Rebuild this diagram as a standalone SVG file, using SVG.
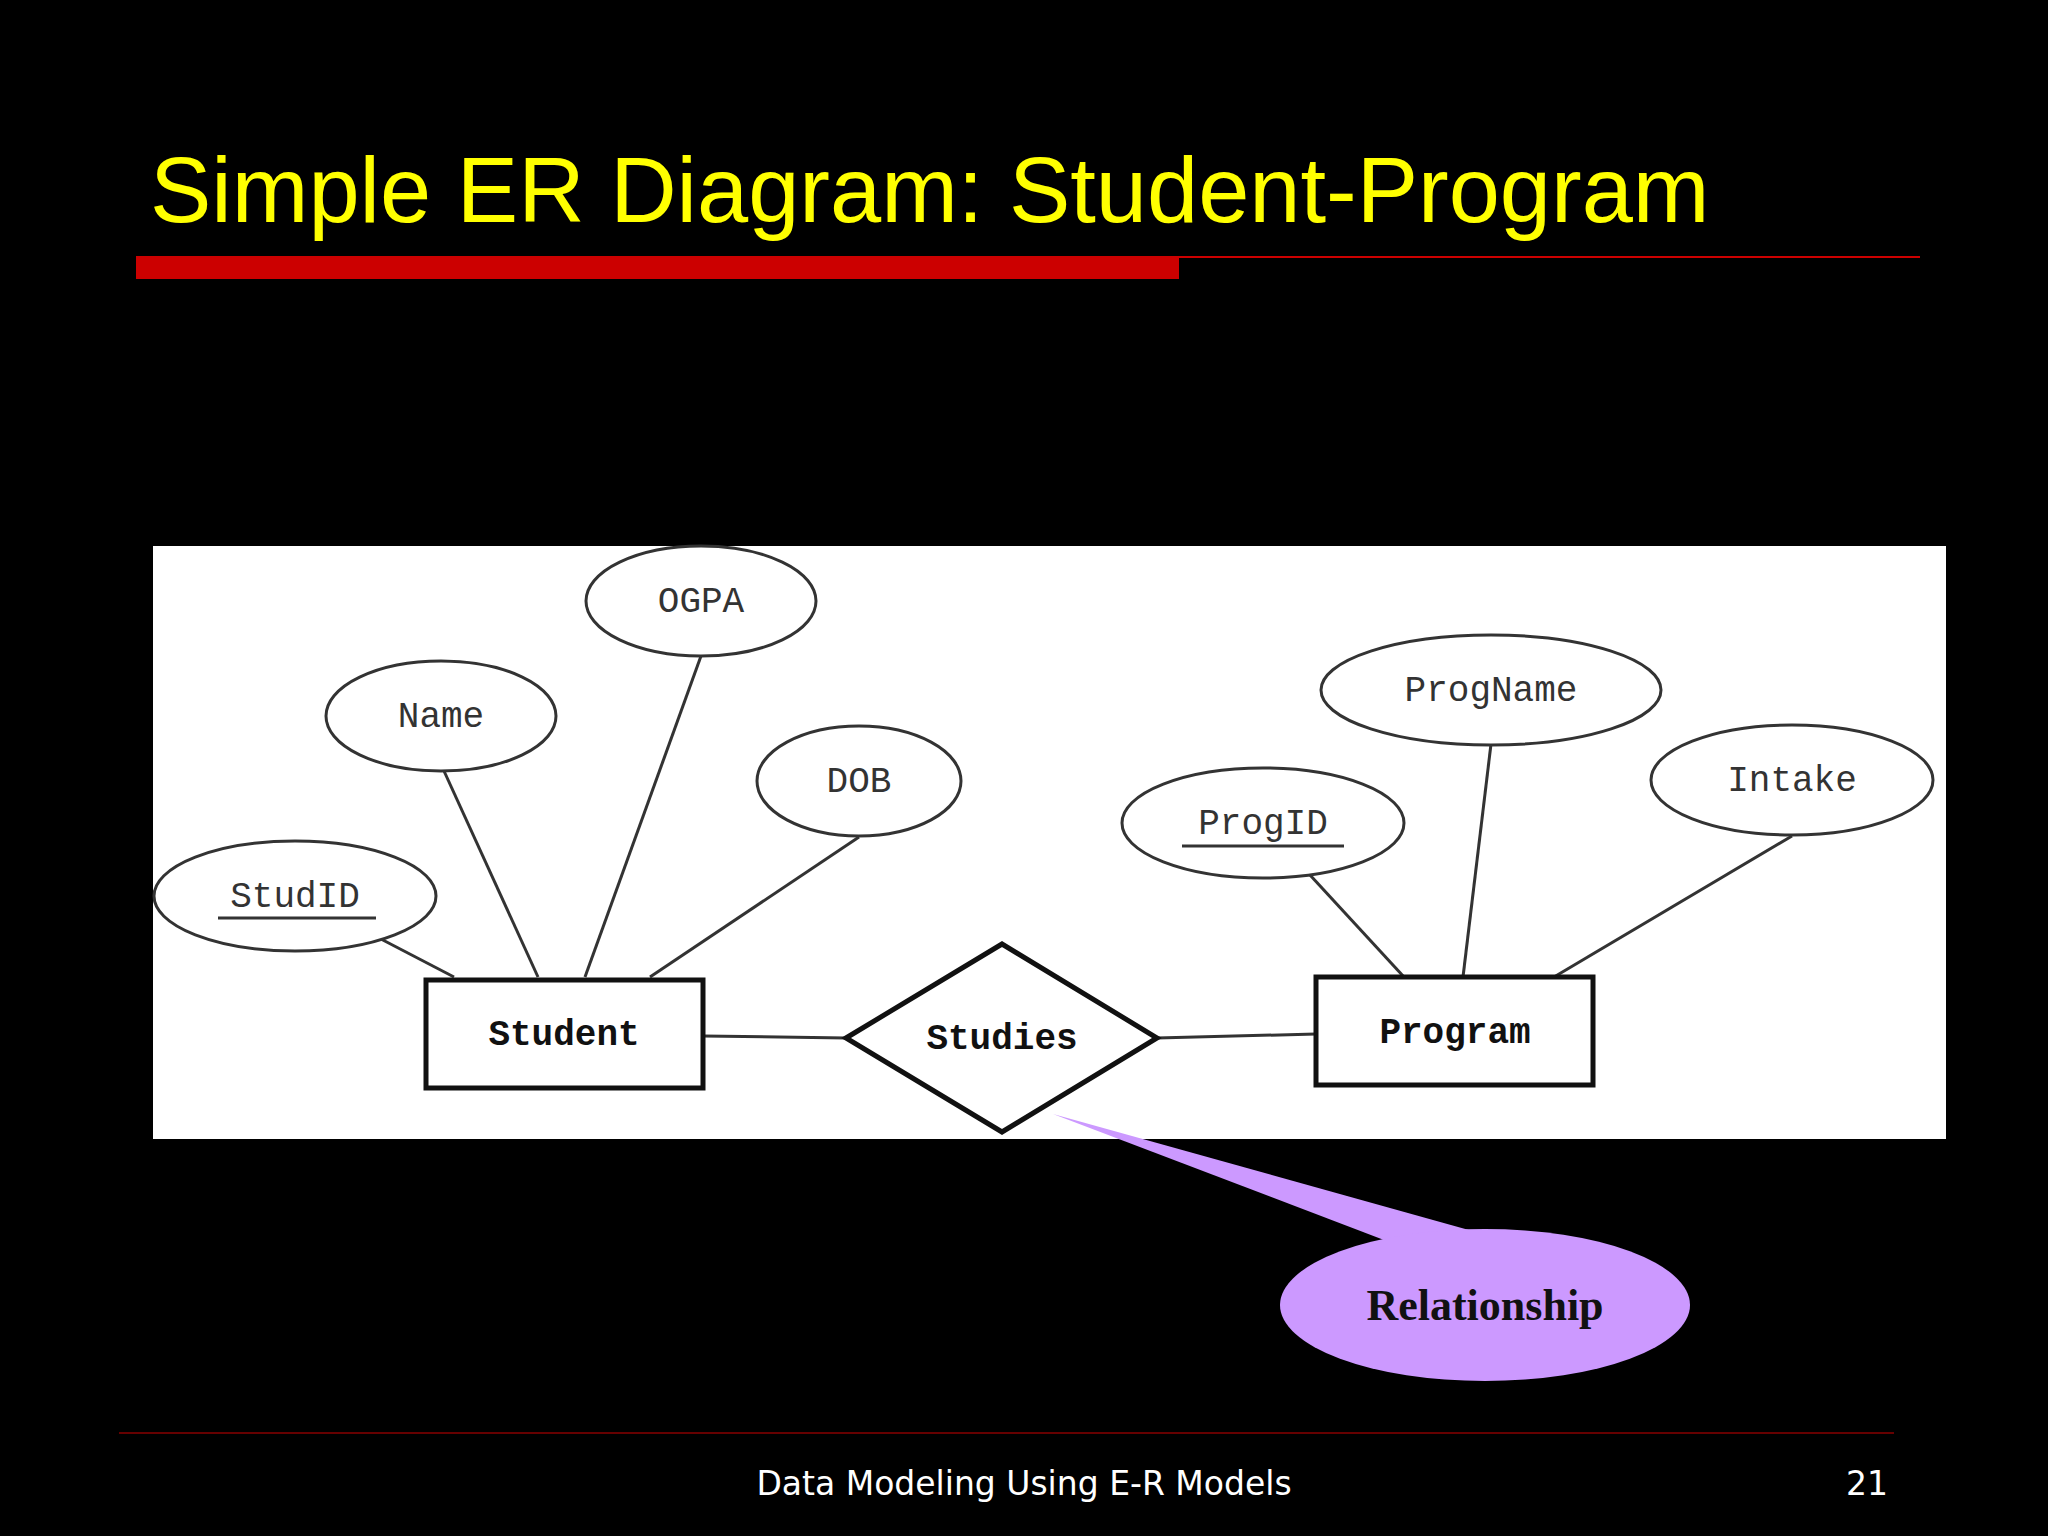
<svg xmlns="http://www.w3.org/2000/svg" width="2048" height="1536" viewBox="0 0 2048 1536">
<style>
.at{fill:#fff;stroke:#333;stroke-width:3}
.t{font-family:"Liberation Mono",monospace;font-size:36px;fill:#333;text-anchor:middle}
.b{font-weight:bold;fill:#111}
.c line{stroke:#333;stroke-width:3}
</style>
<rect width="2048" height="1536" fill="#000"/>
<text x="150" y="222" font-family="Liberation Sans,Arial,sans-serif" font-size="92" fill="#ffff00">Simple ER Diagram: Student-Program</text>
<rect x="136" y="256" width="1043" height="23" fill="#cc0000"/>
<line x1="1179" y1="257" x2="1920" y2="257" stroke="#cc0000" stroke-width="2"/>
<rect x="153" y="546" width="1793" height="593" fill="#fff"/>
<g class="c">
<line x1="379" y1="938" x2="454" y2="977"/>
<line x1="444" y1="771" x2="538" y2="977"/>
<line x1="701" y1="656" x2="585" y2="977"/>
<line x1="859" y1="837" x2="650" y2="977"/>
<line x1="703" y1="1036" x2="846" y2="1038"/>
<line x1="1157" y1="1038" x2="1316" y2="1034"/>
<line x1="1310" y1="875" x2="1404" y2="977"/>
<line x1="1491" y1="744" x2="1463" y2="977"/>
<line x1="1792" y1="836" x2="1554" y2="977"/>
</g>
<g id="studid"><ellipse class="at" cx="295" cy="896" rx="141" ry="55"/><text class="t" x="295" y="907">StudID</text><line x1="218" y1="918" x2="376" y2="918" stroke="#333" stroke-width="3"/></g>
<g id="name"><ellipse class="at" cx="441" cy="716" rx="115" ry="55"/><text class="t" x="441" y="727">Name</text></g>
<g id="ogpa"><ellipse class="at" cx="701" cy="601" rx="115" ry="55"/><text class="t" x="701" y="612">OGPA</text></g>
<g id="dob"><ellipse class="at" cx="859" cy="781" rx="102" ry="55"/><text class="t" x="859" y="792">DOB</text></g>
<g id="progid"><ellipse class="at" cx="1263" cy="823" rx="141" ry="55"/><text class="t" x="1263" y="834">ProgID</text><line x1="1182" y1="846" x2="1344" y2="846" stroke="#333" stroke-width="3"/></g>
<g id="progname"><ellipse class="at" cx="1491" cy="690" rx="170" ry="55"/><text class="t" x="1491" y="701">ProgName</text></g>
<g id="intake"><ellipse class="at" cx="1792" cy="780" rx="141" ry="55"/><text class="t" x="1792" y="791">Intake</text></g>
<g id="student"><rect x="426" y="980" width="277" height="108" fill="#fff" stroke="#111" stroke-width="5"/><text class="t b" x="564" y="1045">Student</text></g>
<g id="studies"><polygon points="846,1038 1002,944 1157,1038 1002,1132" fill="#fff" stroke="#111" stroke-width="5"/><text class="t b" x="1002" y="1049">Studies</text></g>
<g id="program"><rect x="1316" y="977" width="277" height="108" fill="#fff" stroke="#111" stroke-width="5"/><text class="t b" x="1455" y="1043">Program</text></g>
<g id="callout">
<polygon points="1053,1114 1384,1240 1476,1232" fill="#cc99ff"/>
<ellipse cx="1485" cy="1305" rx="205" ry="76" fill="#cc99ff"/>
<text x="1485" y="1305" dy="15" font-family="Liberation Serif,serif" font-weight="bold" font-size="44" fill="#111" text-anchor="middle">Relationship</text>
</g>
<line x1="119" y1="1433" x2="1894" y2="1433" stroke="#660000" stroke-width="2"/>
<text x="1024" y="1495" font-family="DejaVu Sans,sans-serif" font-size="33" fill="#fff" text-anchor="middle">Data Modeling Using E-R Models</text>
<text x="1888" y="1495" font-family="DejaVu Sans,sans-serif" font-size="33" fill="#fff" text-anchor="end">21</text>
</svg>
